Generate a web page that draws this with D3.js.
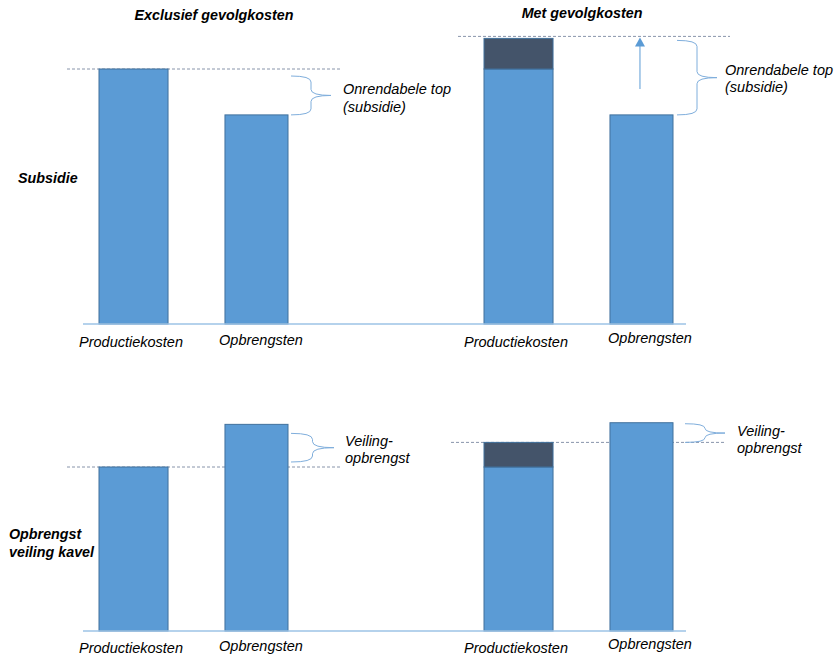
<!DOCTYPE html>
<html>
<head>
<meta charset="utf-8">
<script src="https://cdn.jsdelivr.net/npm/d3@7/dist/d3.min.js"></script>
<style>
  html, body { margin: 0; padding: 0; background: #fff; }
  svg { display: block; }
  text { font-family: "Liberation Sans", Arial, sans-serif; font-style: italic; fill: #000; }
</style>
</head>
<body>
<svg id="chart" width="834" height="659"></svg>
<script>
// ---- data ----
const categories = ["Productiekosten", "Opbrengsten"];
const scenarios = ["Exclusief gevolgkosten", "Met gevolgkosten"];
const rowLabels = [["Subsidie"], ["Opbrengst", "veiling kavel"]];
const productiekosten = [100, 100];          // per scenario
const gevolgkostenSubsidie = [0, 12];        // per scenario
const opbrengstenSubsidie = [82, 82];        // per scenario
const gevolgkostenVeiling = [0, 15];         // per scenario
const opbrengstenVeiling = [126, 127];       // per scenario
const subsidieLabel = ["Onrendabele top", "(subsidie)"];
const veilingLabel = ["Veiling-", "opbrengst"];

// ---- layout ----
const svg = d3.select("#chart");
const fill = "#5B9BD5", stroke = "#41719C", dark = "#44546A";
const axisColor = "#9DC3E6", braceColor = "#7FAEDC", dashColor = "#6A7A96";

const xScen = d3.scaleOrdinal().domain(scenarios).range([0, 385]);
const xCat = d3.scaleBand().domain(categories).range([99, 288]).paddingInner(0.463);
const bw = xCat.bandwidth();
// production bars drawn slightly wider than revenue bars, as in the original
const barX = c => xCat(c) + (c === "Opbrengsten" ? 3 : 0);
const barW = c => bw + (c === "Opbrengsten" ? -3 : 3);

const panels = [
  { y: d3.scaleLinear().domain([0, 100]).range([324, 69]),
    gevolg: gevolgkostenSubsidie, opbr: opbrengstenSubsidie, label: subsidieLabel },
  { y: d3.scaleLinear().domain([0, 100]).range([631, 467]),
    gevolg: gevolgkostenVeiling, opbr: opbrengstenVeiling, label: veilingLabel }
];

// titles
svg.append("text").attr("x", 214).attr("y", 20).attr("text-anchor", "middle")
  .attr("font-size", 14.3).attr("font-weight", "bold").text(scenarios[0]);
svg.append("text").attr("x", 582).attr("y", 18).attr("text-anchor", "middle")
  .attr("font-size", 14.3).attr("font-weight", "bold").text(scenarios[1]);

// row labels
svg.append("text").attr("x", 18).attr("y", 183).attr("font-size", 14.3)
  .attr("font-weight", "bold").text(rowLabels[0][0]);
rowLabels[1].forEach((t, i) => svg.append("text").attr("x", 9).attr("y", 539 + i * 18)
  .attr("font-size", 14.3).attr("font-weight", "bold").text(t));

function brace(g, x0, yTop, yBot, w) {
  const xm = x0 + w / 2, ymid = (yTop + yBot) / 2, r = Math.min(6, (yBot - yTop) / 4);
  const p = `M${x0},${yTop} Q${xm},${yTop} ${xm},${yTop + r} L${xm},${ymid - r}
             Q${xm},${ymid} ${x0 + w},${ymid} Q${xm},${ymid} ${xm},${ymid + r}
             L${xm},${yBot - r} Q${xm},${yBot} ${x0},${yBot}`;
  g.append("path").attr("d", p).attr("fill", "none").attr("stroke", braceColor).attr("stroke-width", 1);
}

panels.forEach((P, pi) => {
  const y = P.y, g = svg.append("g");
  // dashed reference lines
  scenarios.forEach((s, si) => {
    const topVal = productiekosten[si] + P.gevolg[si];
    const ext = si === 0 ? [67, 340] : (pi === 0 ? [458, 730] : [451, 724]);
    const dy = (si === 1 && pi === 0) ? -2 : 0;
    g.append("line").attr("x1", ext[0]).attr("x2", ext[1])
      .attr("y1", y(topVal) + dy).attr("y2", y(topVal) + dy)
      .attr("stroke", dashColor).attr("stroke-width", 0.8).attr("stroke-dasharray", "3,2");
  });
  // bars
  scenarios.forEach((s, si) => {
    const off = xScen(s);
    const xP = off + barX("Productiekosten"), wP = barW("Productiekosten");
    const xO = off + barX("Opbrengsten"), wO = barW("Opbrengsten");
    g.append("rect").attr("x", xP).attr("y", y(productiekosten[si])).attr("width", wP)
      .attr("height", y(0) - y(productiekosten[si])).attr("fill", fill).attr("stroke", stroke);
    if (P.gevolg[si] > 0) {
      const top = productiekosten[si] + P.gevolg[si];
      g.append("rect").attr("x", xP).attr("y", y(top)).attr("width", wP)
        .attr("height", y(productiekosten[si]) - y(top)).attr("fill", dark).attr("stroke", stroke);
    }
    g.append("rect").attr("x", xO).attr("y", y(P.opbr[si])).attr("width", wO)
      .attr("height", y(0) - y(P.opbr[si])).attr("fill", fill).attr("stroke", stroke);
  });
  // baseline
  g.append("line").attr("x1", 83).attr("x2", 686).attr("y1", y(0)).attr("y2", y(0))
    .attr("stroke", axisColor).attr("stroke-width", 1.5);
  // category labels
  scenarios.forEach((s, si) => {
    categories.forEach((c, ci) => {
      const cx = xScen(s) + xCat(c) + bw / 2 + (ci === 1 ? (si === 0 ? 6 : 10) : -1);
      const yy = y(0) + (pi === 0 ? 23 : 22) - (ci === 1 && si === 1 ? 4 : (ci === 1 ? 2 : 0));
      g.append("text").attr("x", cx).attr("y", yy).attr("text-anchor", "middle")
        .attr("font-size", 14.5).text(c);
    });
  });
  // braces + labels
  const x0L = xScen(scenarios[0]) + xCat("Opbrengsten") + bw + 3;
  const x0R = xScen(scenarios[1]) + xCat("Opbrengsten") + bw + 4;
  if (pi === 0) {
    brace(g, x0L, y(productiekosten[0]) + 7, y(P.opbr[0]), 40);
    brace(g, x0R, y(productiekosten[1] + P.gevolg[1]) + 2, y(P.opbr[1]), 40);
    P.label.forEach((t, i) => {
      g.append("text").attr("x", 343).attr("y", 94 + i * 18).attr("font-size", 14.5).text(t);
      g.append("text").attr("x", 725).attr("y", 75 + i * 17).attr("font-size", 14.5).text(t);
    });
    // arrow
    const ax = xScen(scenarios[1]) + xCat("Opbrengsten") + bw / 2;
    const yTip = y(productiekosten[1] + P.gevolg[1]) - 1;
    g.append("line").attr("x1", ax).attr("x2", ax).attr("y1", 89).attr("y2", yTip + 8)
      .attr("stroke", fill).attr("stroke-width", 1);
    g.append("path").attr("d", `M${ax},${yTip} L${ax - 5},${yTip + 9} L${ax + 5},${yTip + 9} Z`)
      .attr("fill", fill);
  } else {
    brace(g, x0L, y(P.opbr[0]) + 9, y(productiekosten[0]) - 5, 43);
    brace(g, x0R + 8, y(P.opbr[1]) + 1, y(productiekosten[1] + P.gevolg[1]), 40);
    P.label.forEach((t, i) => {
      g.append("text").attr("x", 345).attr("y", 446 + i * 17).attr("font-size", 14.5).text(t);
      g.append("text").attr("x", 737).attr("y", 436 + i * 17).attr("font-size", 14.5).text(t);
    });
  }
});
</script>
</body>
</html>
